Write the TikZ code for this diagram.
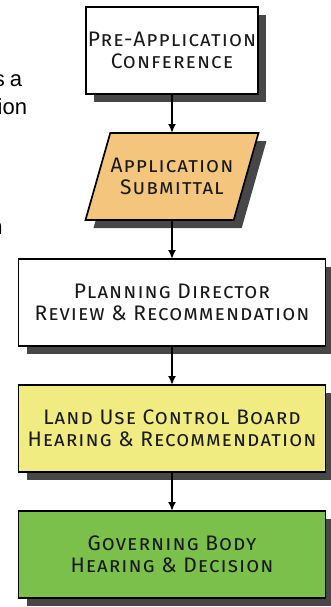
\documentclass[tikz,border=0pt]{standalone}
\usepackage{fontspec}
\setmainfont{Liberation Sans}
\newfontfamily\boxfont{Fira Sans}[LetterSpace=5]
\usetikzlibrary{positioning,arrows.meta,shadows,shapes.geometric}

\definecolor{appl}{RGB}{244,197,125}
\definecolor{lucb}{RGB}{240,236,130}
\definecolor{govb}{RGB}{124,192,76}

\begin{document}
\begin{tikzpicture}[
    x=1pt, y=1pt,
    every node/.style={inner sep=0pt, outer sep=0pt},
    box/.style={draw=black, line width=1.7pt, text=black!90,
                minimum height=87pt, align=center,
                font=\boxfont\fontsize{21}{22}\selectfont\scshape,
                drop shadow={shadow xshift=8pt, shadow yshift=-8pt,
                             fill=black!72, opacity=1}},
    wide/.style={box, minimum width=307pt},
    flow/.style={line width=1.8pt, -{Latex[length=9pt,width=8pt]}},
    frag/.style={font=\fontsize{22}{26}\selectfont, anchor=base east}
  ]
  \useasboundingbox (0,0) rectangle (331,-607);
  \clip (0,0) rectangle (331,-607);
  % bits of the page text, cut by the left edge
  \node[frag] (fa) at (22,-87)  {s\hspace{5pt}a};
  \node[frag] (fb) at (27,-114) {ion};
  \node[frag] (fc) at (2.5,-234) {n};
  % the steps
  \node[box, fill=white, minimum width=172pt] (pre) at (172,-50.5) {Pre-Application\\Conference};
  \node[box, fill=appl, trapezium, trapezium left angle=56, trapezium right angle=124,
        trapezium stretches body=true, minimum width=173pt, below=39pt of pre] (sub) {Application\\Submittal};
  \node[wide, fill=white, below=39pt of sub] (pdr) {Planning Director\\Review \& Recommendation};
  \node[wide, fill=lucb,  below=39pt of pdr] (luc) {Land Use Control Board\\Hearing \& Recommendation};
  \node[wide, fill=govb,  below=39pt of luc] (gov) {Governing Body\\Hearing \& Decision};
  \draw[flow] (pre) -- (sub);
  \draw[flow] (sub) -- (pdr);
  \draw[flow] (pdr) -- (luc);
  \draw[flow] (luc) -- (gov);
\end{tikzpicture}
\end{document}
